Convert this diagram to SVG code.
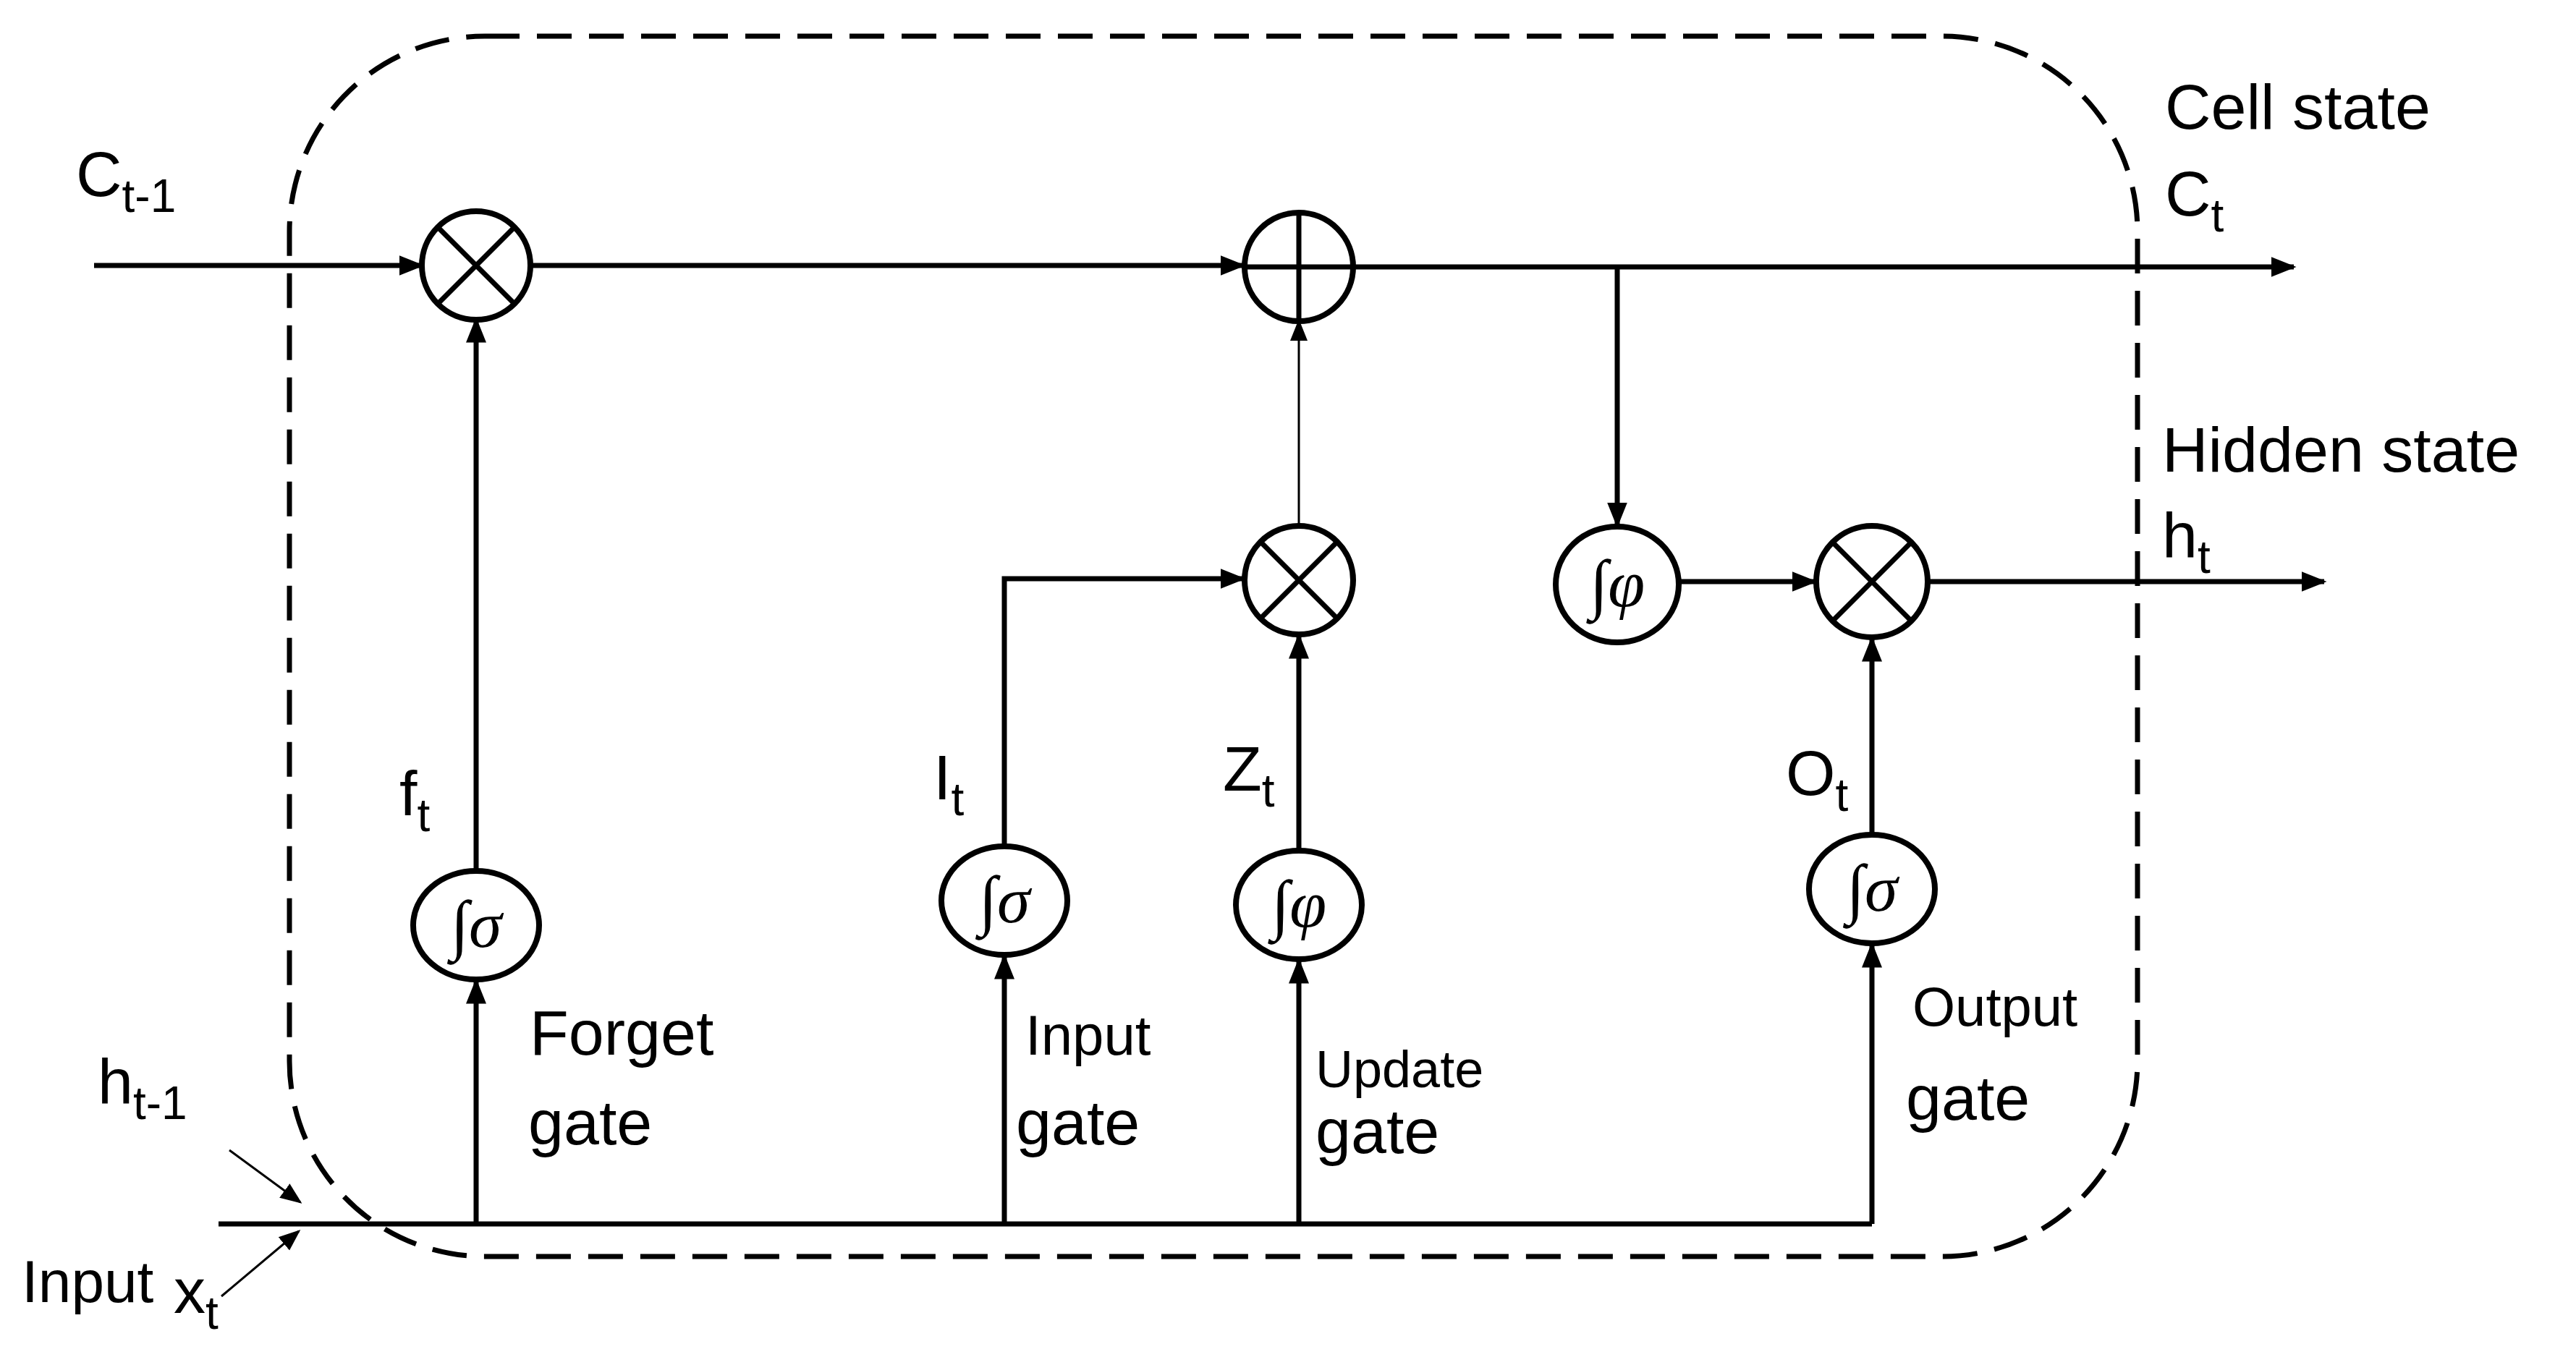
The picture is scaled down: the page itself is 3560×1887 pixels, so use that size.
<svg xmlns="http://www.w3.org/2000/svg" width="3560" height="1887" viewBox="0 0 3560 1887">
<style>
.ln{stroke:#000;stroke-width:7;fill:none}
.thin{stroke:#000;stroke-width:3;fill:none}
.nd{stroke:#000;stroke-width:8;fill:#fff}
.t{font-family:"Liberation Sans",Arial,sans-serif;font-size:88px;fill:#000}
.s{font-size:64px}
.sym{font-family:"Liberation Serif","DejaVu Serif",serif;font-style:italic;font-size:92px;fill:#000}
</style>
<defs>
<marker id="a" viewBox="0 0 10 10" refX="9" refY="5" markerWidth="5" markerHeight="5" orient="auto" markerUnits="strokeWidth"><path d="M0,1 L10,5 L0,9 Z" fill="#000"/></marker>
<marker id="b" viewBox="0 0 10 10" refX="9" refY="5" markerWidth="10" markerHeight="10" orient="auto" markerUnits="strokeWidth"><path d="M0,1 L10,5 L0,9 Z" fill="#000"/></marker>
</defs>
<rect x="400" y="50" width="2554" height="1687" rx="270" ry="270" fill="none" stroke="#000" stroke-width="7" stroke-dasharray="48,24"/>
<g id="connectors">
<line class="ln" x1="130" y1="367" x2="583" y2="367" marker-end="url(#a)"/>
<line class="ln" x1="733" y1="367" x2="1718" y2="367" marker-end="url(#a)"/>
<line class="ln" x1="1872" y1="369" x2="3170" y2="369" marker-end="url(#a)"/>
<line class="ln" x1="2235" y1="369" x2="2235" y2="726" marker-end="url(#a)"/>
<line class="ln" x1="2320" y1="804" x2="2508" y2="804" marker-end="url(#a)"/>
<line class="ln" x1="2664" y1="804" x2="3212" y2="804" marker-end="url(#a)"/>
<line class="thin" x1="1795" y1="727" x2="1795" y2="444" marker-end="url(#b)"/>
<polyline class="ln" points="1388,1170 1388,800 1718,800" marker-end="url(#a)"/>
<line class="ln" x1="1795" y1="1176" x2="1795" y2="879" marker-end="url(#a)"/>
<line class="ln" x1="658" y1="1204" x2="658" y2="442" marker-end="url(#a)"/>
<line class="ln" x1="2587" y1="1154" x2="2587" y2="883" marker-end="url(#a)"/>
<line class="ln" x1="302" y1="1692" x2="2587" y2="1692"/>
<line class="ln" x1="658" y1="1692" x2="658" y2="1356" marker-end="url(#a)"/>
<line class="ln" x1="1388" y1="1692" x2="1388" y2="1322" marker-end="url(#a)"/>
<line class="ln" x1="1795" y1="1692" x2="1795" y2="1328" marker-end="url(#a)"/>
<line class="ln" x1="2587" y1="1692" x2="2587" y2="1306" marker-end="url(#a)"/>
<line class="thin" x1="317" y1="1590" x2="415" y2="1662" marker-end="url(#b)"/>
<line class="thin" x1="306" y1="1792" x2="413" y2="1702" marker-end="url(#b)"/>
</g>
<g id="mul1"><circle class="nd" cx="658" cy="367" r="75"/><path class="ln" d="M605,314 L711,420 M711,314 L605,420"/></g>
<g id="add"><circle class="nd" cx="1795" cy="369" r="75"/><path class="ln" d="M1720,369 H1870 M1795,294 V444"/></g>
<g id="mul2"><circle class="nd" cx="1795" cy="802" r="75"/><path class="ln" d="M1742,749 L1848,855 M1848,749 L1742,855"/></g>
<g id="mul3"><circle class="nd" cx="2587" cy="804" r="77"/><path class="ln" d="M2533,750 L2641,858 M2641,750 L2533,858"/></g>
<g id="tanh2"><ellipse class="nd" cx="2235" cy="808" rx="85" ry="80"/><text class="sym" x="2235" y="838" text-anchor="middle">∫φ</text></g>
<g id="forget"><ellipse class="nd" cx="658" cy="1279" rx="87" ry="75"/><text class="sym" x="658" y="1309" text-anchor="middle">∫σ</text></g>
<g id="input"><ellipse class="nd" cx="1388" cy="1245" rx="87" ry="75"/><text class="sym" x="1388" y="1275" text-anchor="middle">∫σ</text></g>
<g id="update"><ellipse class="nd" cx="1795" cy="1251" rx="87" ry="75"/><text class="sym" x="1795" y="1281" text-anchor="middle">∫φ</text></g>
<g id="output"><ellipse class="nd" cx="2587" cy="1229" rx="87" ry="75"/><text class="sym" x="2587" y="1259" text-anchor="middle">∫σ</text></g>
<g id="labels">
<text class="t" x="105" y="271">C<tspan class="s" dy="22">t-1</tspan></text>
<text class="t" x="552" y="1127">f<tspan class="s" dy="22">t</tspan></text>
<text class="t" x="1290" y="1105">I<tspan class="s" dy="22">t</tspan></text>
<text class="t" x="1690" y="1093">Z<tspan class="s" dy="22">t</tspan></text>
<text class="t" x="2468" y="1099">O<tspan class="s" dy="22">t</tspan></text>
<text class="t" x="732" y="1458">Forget</text>
<text class="t" x="730" y="1582">gate</text>
<text class="t" x="1417" y="1458" style="font-size:78px">Input</text>
<text class="t" x="1404" y="1582">gate</text>
<text class="t" x="1818" y="1503" style="font-size:72px">Update</text>
<text class="t" x="1818" y="1594">gate</text>
<text class="t" x="2643" y="1418" style="font-size:76px">Output</text>
<text class="t" x="2634" y="1548">gate</text>
<text class="t" x="2992" y="178">Cell state</text>
<text class="t" x="2992" y="298">C<tspan class="s" dy="22">t</tspan></text>
<text class="t" x="2988" y="652">Hidden state</text>
<text class="t" x="2988" y="770">h<tspan class="s" dy="22">t</tspan></text>
<text class="t" x="135" y="1525">h<tspan class="s" dy="22">t-1</tspan></text>
<text class="t" x="30" y="1800" style="font-size:82px">Input</text>
<text class="t" x="240" y="1815">x<tspan class="s" dy="22">t</tspan></text>
</g>
</svg>
